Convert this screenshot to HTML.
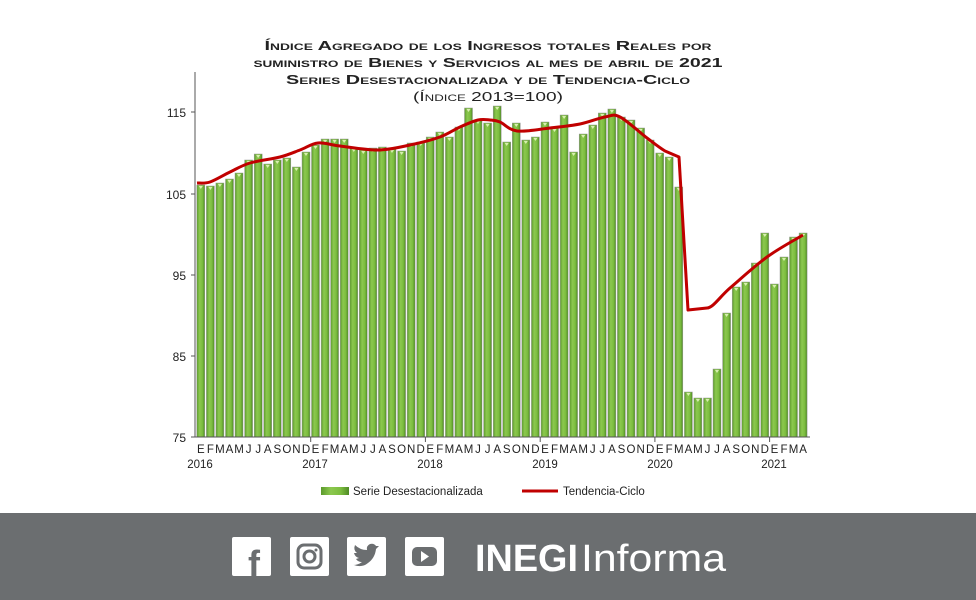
<!DOCTYPE html>
<html><head><meta charset="utf-8"><style>
body{margin:0;background:#fff;}
svg{display:block;font-family:"Liberation Sans",Arial,sans-serif;}
</style></head><body>
<svg width="976" height="600" viewBox="0 0 976 600" xmlns="http://www.w3.org/2000/svg">
<defs>
<linearGradient id="g" x1="0" x2="1" y1="0" y2="0">
<stop offset="0" stop-color="#5c9a2c"/><stop offset="0.35" stop-color="#8cc84f"/><stop offset="0.7" stop-color="#7cbd3f"/><stop offset="1" stop-color="#4f8a25"/>
</linearGradient>
</defs>
<rect width="976" height="600" fill="#fff"/>
<g font-weight="bold" font-size="13" fill="#222" text-anchor="middle" style="font-variant:small-caps">
<text x="488" y="50" textLength="447" lengthAdjust="spacingAndGlyphs">Índice Agregado de los Ingresos totales Reales por</text>
<text x="488" y="67" textLength="469" lengthAdjust="spacingAndGlyphs">suministro de Bienes y Servicios al mes de abril de 2021</text>
<text x="488" y="84" textLength="404" lengthAdjust="spacingAndGlyphs">Series Desestacionalizada y de Tendencia-Ciclo</text>
</g>
<text x="488" y="101" font-size="13" fill="#222" text-anchor="middle" style="font-variant:small-caps" textLength="150" lengthAdjust="spacingAndGlyphs">(Índice 2013=100)</text>
<g id="bars"></g>
<line x1="195" y1="72" x2="195" y2="437" stroke="#555" stroke-width="1"/>
<line x1="195" y1="437" x2="810" y2="437" stroke="#555" stroke-width="1"/>
<g stroke="#555"><line x1="191" y1="112" x2="195" y2="112"/><line x1="191" y1="194" x2="195" y2="194"/><line x1="191" y1="275" x2="195" y2="275"/><line x1="191" y1="356" x2="195" y2="356"/><line x1="191" y1="437" x2="195" y2="437"/>
<line x1="310.7" y1="437" x2="310.7" y2="442"/><line x1="425.4" y1="437" x2="425.4" y2="442"/><line x1="540.2" y1="437" x2="540.2" y2="442"/><line x1="654.9" y1="437" x2="654.9" y2="442"/><line x1="769.6" y1="437" x2="769.6" y2="442"/></g>
<g font-size="12" fill="#222" text-anchor="end">
<text x="186" y="117">115</text><text x="186" y="199">105</text><text x="186" y="280">95</text><text x="186" y="361">85</text><text x="186" y="442">75</text></g>
<path id="trend" fill="none" stroke="#c00000" stroke-width="3" stroke-linejoin="round"/>
<g font-size="11.5" fill="#222" text-anchor="middle">
<text y="453" x="200.8 210.4 219.9 229.5 239.0 248.6 258.2 267.7 277.3 286.8 296.4 306.0">EFMAMJJASOND</text>
<text y="453" x="315.5 325.1 334.6 344.2 353.8 363.3 372.9 382.4 392.0 401.6 411.1 420.7">EFMAMJJASOND</text>
<text y="453" x="430.2 439.8 449.4 458.9 468.5 478.0 487.6 497.2 506.7 516.3 525.8 535.4">EFMAMJJASOND</text>
<text y="453" x="545.0 554.5 564.1 573.6 583.2 592.8 602.3 611.9 621.4 631.0 640.6 650.1">EFMAMJJASOND</text>
<text y="453" x="659.7 669.2 678.8 688.4 697.9 707.5 717.0 726.6 736.2 745.7 755.3 764.8">EFMAMJJASOND</text>
<text y="453" x="774.4 784.0 793.5 803.1">EFMA</text>
<text x="200" y="468">2016</text><text x="315" y="468">2017</text><text x="430" y="468">2018</text><text x="545" y="468">2019</text><text x="660" y="468">2020</text><text x="774" y="468">2021</text>
</g>
<rect x="321" y="487" width="28" height="8" fill="url(#g)"/>
<text x="353" y="495" font-size="11.5" fill="#222">Serie Desestacionalizada</text>
<line x1="522" y1="491" x2="558" y2="491" stroke="#c00000" stroke-width="3"/>
<text x="563" y="495" font-size="11.5" fill="#222">Tendencia-Ciclo</text>
<rect x="0" y="513" width="976" height="87" fill="#6b6e70"/>
<g fill="#fff">
<rect x="232" y="537" width="39" height="39" rx="2"/>
<rect x="290" y="537" width="39" height="39" rx="2"/>
<rect x="347" y="537" width="39" height="39" rx="2"/>
<rect x="405" y="537" width="39" height="39" rx="2"/>
</g>
<text x="254" y="576" font-size="36" font-weight="bold" fill="#6b6e70" text-anchor="middle">f</text>
<rect x="298" y="545" width="23" height="23" rx="6" fill="none" stroke="#6b6e70" stroke-width="3"/>
<circle cx="309.5" cy="556.5" r="5.5" fill="none" stroke="#6b6e70" stroke-width="3"/>
<circle cx="316" cy="550" r="1.5" fill="#6b6e70"/>
<path d="M354 565 q8 3 14 -2 q7 -5 8 -14 l3 -3 l-3 0 q-2 -3 -6 -2 q-4 2 -3 6 q-7 0 -12 -5 q-2 5 2 8 l-3 0 q1 4 5 5 l-3 1 q2 3 6 3 q-4 3 -9 3z" fill="#6b6e70"/>
<rect x="412" y="547" width="25" height="19" rx="5" fill="#6b6e70"/>
<path d="M421 551 l0 11 l8 -5.5z" fill="#fff"/>
<text x="475" y="571" font-size="38" font-weight="bold" fill="#fff" textLength="103" lengthAdjust="spacingAndGlyphs">INEGI</text>
<text x="581" y="571" font-size="38" fill="#fff" textLength="145" lengthAdjust="spacingAndGlyphs">Informa</text>
</svg>
<script>
var tops=[185,186,183,179,173,160,154,164,160,158,167,152,145,139,139,139,148,150,148,147,149,151,143,142,137,132,137,127,108,120,123,106,142,123,140,137,122,128,115,152,134,125,113,109,117,120,128,140,153,157,187,392,398,398,369,313,287,282,263,233,284,257,237,233];
var g=document.getElementById('bars'),s='';
for(var i=0;i<tops.length;i++){var x=196.8+i*9.56;
s+='<rect x="'+x.toFixed(1)+'" y="'+tops[i]+'" width="8" height="'+(437-tops[i])+'" fill="url(#g)" stroke="#9a9a9a" stroke-width="0.5"/>';
s+='<path d="M'+(x+2).toFixed(1)+' '+(tops[i]+1)+' l4 0 l-2 3z" fill="#d8efb0"/>';}
g.innerHTML=s;
var pts=[[197,183],[210,182],[230,172],[250,163],[280,157],[300,150],[318,143],[340,146],[378,150],[410,145],[440,137],[460,127],[478,120],[490,120],[500,122],[517,131],[550,128],[580,124],[605,117],[620,117],[647,138],[665,151],[679,157],[688,310],[707,308],[730,288],[767,257],[803,235]];
var d='M'+pts[0].join(' ');
for(var i=0;i<pts.length-1;i++){
 var p0=pts[Math.max(0,i-1)],p1=pts[i],p2=pts[i+1],p3=pts[Math.min(pts.length-1,i+2)];
 var sharp=(i==21||i==22||i==23);
 if(sharp){d+=' L'+p2.join(' ');continue;}
 var c1=[p1[0]+(p2[0]-p0[0])/6,p1[1]+(p2[1]-p0[1])/6],c2=[p2[0]-(p3[0]-p1[0])/6,p2[1]-(p3[1]-p1[1])/6];
 if(i==24){c1=[p1[0]+6,p1[1]];}
 d+=' C'+c1.join(' ')+' '+c2.join(' ')+' '+p2.join(' ');
}
document.getElementById('trend').setAttribute('d',d);
</script>
</body></html>
